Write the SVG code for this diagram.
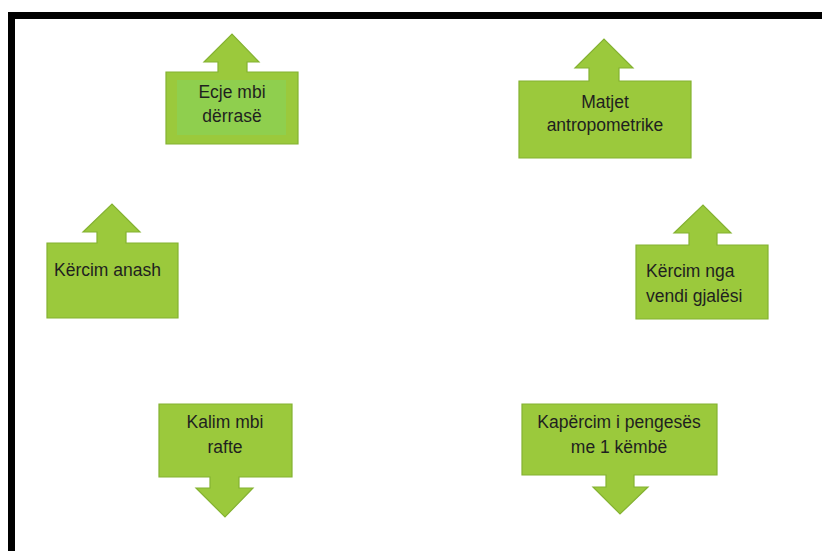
<svg xmlns="http://www.w3.org/2000/svg" width="822" height="551" viewBox="0 0 822 551">
<style>
.shape{fill:#9BC93C;stroke:#84B231;stroke-width:1.2}
.inner{fill:#8FCF4E}
text{font-family:"Liberation Sans",Arial,sans-serif;font-size:17.5px;fill:#1f1f1f}
.c{text-anchor:middle}
</style>
<rect x="0" y="0" width="822" height="551" fill="#fff"/>
<path d="M11.5,551 V15.5 H822" fill="none" stroke="#000" stroke-width="7"/>
<g id="connectors"></g>
<g id="ecje">
<path class="shape" d="M166,72 H218 V62 H204 L232,34 L259,62 H247 V72 H298 V144 H166 Z"/>
<rect class="inner" x="177" y="80" width="109" height="55"/>
<text class="c" x="232" y="98">Ecje mbi</text>
<text class="c" x="232" y="122">dërrasë</text>
</g>
<g id="matjet">
<path class="shape" d="M519,81 H589 V68 H575 L604,39 L633,68 H619 V81 H691 V158 H519 Z"/>
<text class="c" x="605" y="108">Matjet</text>
<text class="c" x="605" y="131">antropometrike</text>
</g>
<g id="anash">
<path class="shape" d="M47,243 H97 V232 H83 L112,204 L140,232 H126 V243 H178 V318 H47 Z"/>
<text x="54" y="276">Kërcim anash</text>
</g>
<g id="nga">
<path class="shape" d="M636,245 H689 V233 H674 L703,205 L731,233 H717 V245 H768 V319 H636 Z"/>
<text x="646" y="277">Kërcim nga</text>
<text x="646" y="302">vendi gjalësi</text>
</g>
<g id="kalim">
<path class="shape" d="M159,404 H292 V477 H239 V488 H253 L225,517 L196,488 H210 V477 H159 Z"/>
<text class="c" x="225" y="428">Kalim mbi</text>
<text class="c" x="225" y="453">rafte</text>
</g>
<g id="kapercim">
<path class="shape" d="M522,404 H717 V475 H634 V487 H648 L620,514 L593,487 H606 V475 H522 Z"/>
<text class="c" x="619" y="428">Kapërcim i pengesës</text>
<text class="c" x="619" y="453">me 1 këmbë</text>
</g>
</svg>
